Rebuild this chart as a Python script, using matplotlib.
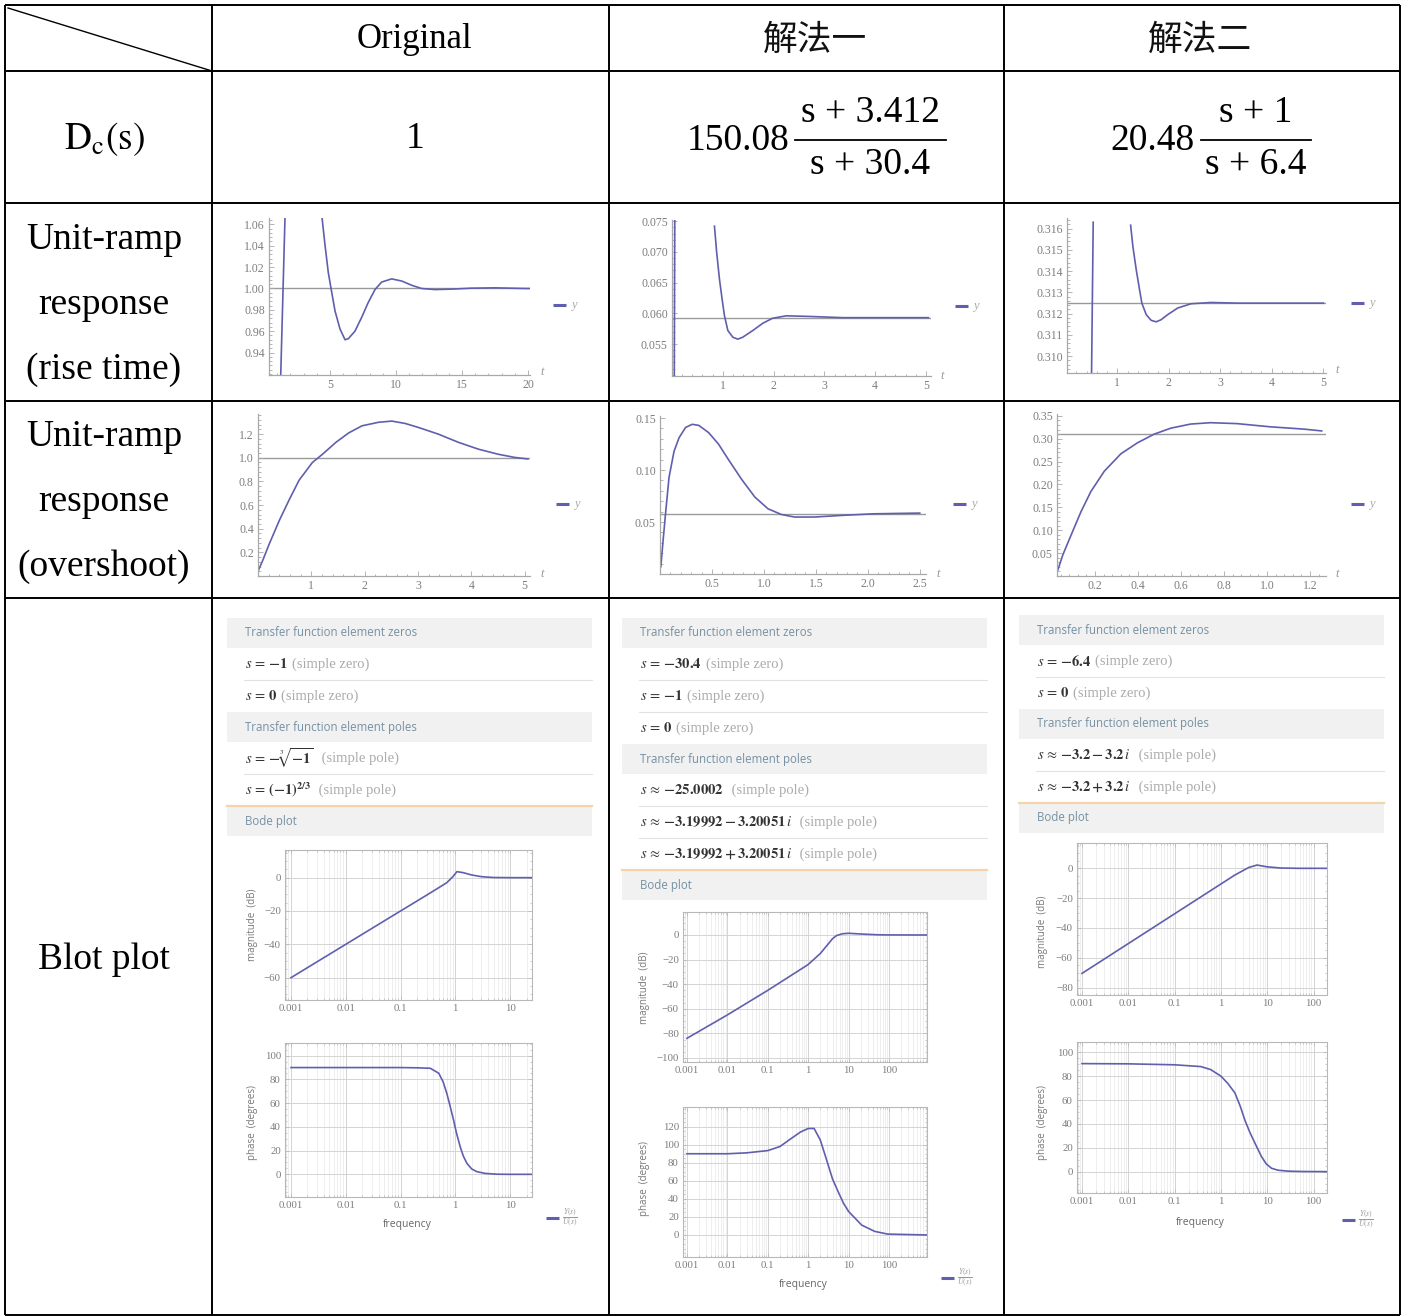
import numpy as np
import matplotlib
matplotlib.use('Agg')
import matplotlib.pyplot as plt
from matplotlib.patches import Rectangle
from matplotlib.ticker import AutoMinorLocator, LogLocator, NullFormatter

W, H = 1405, 1316
nan = np.nan

# ---------------- table text ----------------
COL_HEADERS = ['Original', '解法一', '解法二']
DC_LABEL = r'$\mathrm{D_c(s)}$'
DC_ORIG = '1'
DC_SOL1 = ('150.08', 's + 3.412', 's + 30.4')
DC_SOL2 = ('20.48', 's + 1', 's + 6.4')
ROW_RISE = ['Unit-ramp', 'response', '(rise time)']
ROW_OVER = ['Unit-ramp', 'response', '(overshoot)']
ROW_BODE = 'Blot plot'

# ---------------- unit-ramp response (rise time) ----------------
RISE_ORIG_T = [1.26, 1.59, nan, 4.40, 4.62, 4.87, 5.08, 5.38, 5.76, 6.14, 6.39, 6.89, 7.40,
               7.90, 8.41, 8.91, 9.67, 10.43, 11.19, 11.94, 12.95, 14.2, 15.7, 17.5, 19.8, 20.1]
RISE_ORIG_Y = [0.915, 1.066, nan, 1.066, 1.041, 1.015, 1.000, 0.979, 0.962, 0.952, 0.953, 0.960,
               0.973, 0.987, 0.999, 1.006, 1.009, 1.007, 1.003, 1.000, 0.999, 0.9994, 1.0003,
               1.0006, 1.0, 1.0]
RISE_SOL1_T = [0.045, 0.055, nan, 0.836, 0.88, 0.934, 0.987, 1.033, 1.10, 1.20, 1.295, 1.39,
               1.59, 1.79, 1.98, 2.25, 2.70, 3.36, 5.05]
RISE_SOL1_Y = [0.0495, 0.0755, nan, 0.0742, 0.0699, 0.0656, 0.0623, 0.0596, 0.0572, 0.0561,
               0.0558, 0.0561, 0.0572, 0.0584, 0.0592, 0.0596, 0.0595, 0.0593, 0.0593]
RISE_SOL2_T = [0.497, 0.53, nan, 1.258, 1.303, 1.368, 1.432, 1.477, 1.561, 1.658, 1.755, 1.852,
               1.98, 2.174, 2.432, 2.819, 3.335, 5.01]
RISE_SOL2_Y = [0.3090, 0.3163, nan, 0.31616, 0.31514, 0.31405, 0.31312, 0.31249, 0.31195,
               0.31168, 0.31161, 0.31171, 0.31195, 0.31226, 0.31246, 0.31252, 0.31249, 0.31249]
RISE_REF = [1.0, 0.0593, 0.3125]

# ---------------- unit-ramp response (overshoot) ----------------
OVER_ORIG_T = [0.0, 0.087, 0.21, 0.40, 0.58, 0.77, 1.02, 1.21, 1.46, 1.70, 1.95, 2.26, 2.51,
               2.76, 3.01, 3.38, 3.76, 4.13, 4.50, 4.81, 5.06]
OVER_ORIG_Y = [0.04, 0.13, 0.27, 0.47, 0.64, 0.81, 0.96, 1.03, 1.13, 1.21, 1.27, 1.30, 1.31,
               1.29, 1.256, 1.20, 1.13, 1.073, 1.03, 1.003, 0.99]
OVER_SOL1_T = [0.008, 0.03, 0.056, 0.087, 0.135, 0.183, 0.246, 0.31, 0.373, 0.468, 0.563, 0.659,
               0.786, 0.913, 1.04, 1.167, 1.294, 1.484, 1.738, 2.056, 2.5]
OVER_SOL1_Y = [0.007, 0.0325, 0.061, 0.093, 0.118, 0.131, 0.141, 0.144, 0.143, 0.136, 0.125,
               0.110, 0.091, 0.074, 0.0627, 0.0573, 0.0548, 0.0548, 0.0563, 0.0579, 0.0586]
OVER_SOL2_T = [0.027, 0.05, 0.089, 0.135, 0.181, 0.243, 0.32, 0.397, 0.475, 0.552, 0.644, 0.737,
               0.86, 1.015, 1.17, 1.254]
OVER_SOL2_Y = [0.0134, 0.046, 0.09, 0.141, 0.185, 0.229, 0.267, 0.291, 0.31, 0.323, 0.332,
               0.335, 0.333, 0.326, 0.321, 0.317]
OVER_REF = [1.0, 0.0573, 0.3097]

# ---------------- Bode data ----------------
BODE_ORIG_MF = [0.001, 0.01, 0.1, 0.3, 0.5, 0.7, 0.9, 1.07, 1.4, 2.0, 3.0, 5.0, 10, 25]
BODE_ORIG_MAG = [-60, -40, -20, -10.5, -6, -3, 0.5, 3.6, 3.0, 1.6, 0.6, 0.1, 0, 0]
BODE_ORIG_PF = [0.001, 0.01, 0.1, 0.2, 0.35, 0.5, 0.6, 0.7, 0.8, 0.93, 1.05, 1.23, 1.4, 1.63,
                2.0, 2.5, 3.5, 5.8, 10, 25]
BODE_ORIG_PH = [90, 90, 90, 89.8, 89.4, 85.2, 78, 68.3, 58, 45.8, 35, 23.3, 15.5, 9.3, 4.5, 2.2,
                0.8, 0.1, 0, 0]

BODE_SOL1_MF = [0.001, 0.01, 0.1, 0.3, 1.0, 2.0, 3.0, 4.0, 5.0, 7.0, 10, 20, 50, 100, 870]
BODE_SOL1_MAG = [-84, -65, -45, -35, -24, -15, -8, -3, -0.5, 1.0, 1.4, 0.8, 0.2, 0.05, 0]
BODE_SOL1_PF = [0.001, 0.01, 0.03, 0.1, 0.2, 0.33, 0.64, 1.0, 1.4, 2.0, 3.1, 4.0, 5.5, 7.5, 10,
                21, 44, 92, 870]
BODE_SOL1_PH = [90, 90, 91, 93.5, 98, 105, 114, 118, 118, 105, 78, 62, 48, 35, 26, 11, 4, 1, 0]

BODE_SOL2_MF = [0.001, 0.01, 0.1, 1.0, 2.0, 3.0, 4.0, 6.0, 10, 20, 50, 195]
BODE_SOL2_MAG = [-70.5, -50.5, -30.5, -10.5, -4.5, -1.5, 0.6, 2.2, 1.0, 0.2, 0, 0]
BODE_SOL2_PF = [0.001, 0.01, 0.1, 0.37, 0.6, 1.0, 1.4, 2.0, 2.6, 3.3, 4.2, 5.4, 7.5, 9.5, 12.4,
                17, 28.5, 60, 195]
BODE_SOL2_PH = [90.5, 90.3, 89.5, 88, 85.5, 80, 74, 66, 55, 43, 33, 24, 12.6, 6.5, 2.8, 1.2,
                0.4, 0.1, 0]

# ---------------- zeros / poles panels ----------------
INFO_ORIG = [
    ('head', 'Transfer function element zeros'),
    ('val', r'$s\,=\,\mathbf{-1}$', '(simple zero)'),
    ('val', r'$s\,=\,\mathbf{0}$', '(simple zero)'),
    ('head', 'Transfer function element poles'),
    ('val', r'$s\,=\,\mathbf{-}\sqrt[3]{\mathbf{-1}}$', ' (simple pole)'),
    ('val', r'$s\,=\,\mathbf{(-1)}^{\mathbf{2/3}}$', ' (simple pole)'),
    ('bode', 'Bode plot'),
]
INFO_SOL1 = [
    ('head', 'Transfer function element zeros'),
    ('val', r'$s\,=\,\mathbf{-30.4}$', '(simple zero)'),
    ('val', r'$s\,=\,\mathbf{-1}$', '(simple zero)'),
    ('val', r'$s\,=\,\mathbf{0}$', '(simple zero)'),
    ('head', 'Transfer function element poles'),
    ('val', r'$s\,\approx\,\mathbf{-25.0002}$', ' (simple pole)'),
    ('val', r'$s\,\approx\,\mathbf{-3.19992-3.20051}\,i$', ' (simple pole)'),
    ('val', r'$s\,\approx\,\mathbf{-3.19992+3.20051}\,i$', ' (simple pole)'),
    ('bode', 'Bode plot'),
]
INFO_SOL2 = [
    ('head', 'Transfer function element zeros'),
    ('val', r'$s\,=\,\mathbf{-6.4}$', '(simple zero)'),
    ('val', r'$s\,=\,\mathbf{0}$', '(simple zero)'),
    ('head', 'Transfer function element poles'),
    ('val', r'$s\,\approx\,\mathbf{-3.2-3.2}\,i$', ' (simple pole)'),
    ('val', r'$s\,\approx\,\mathbf{-3.2+3.2}\,i$', ' (simple pole)'),
    ('bode', 'Bode plot'),
]

CURVE = '#5f5fae'
REFC = '#9a9a9a'
AXC = '#a8a8a8'
TXTC = '#7d7d7d'

plt.rcParams['font.family'] = ['Liberation Serif', 'DejaVu Serif']
plt.rcParams['mathtext.fontset'] = 'stix'

fig = plt.figure(figsize=(W / 100, H / 100), dpi=100)
bg = fig.add_axes([0, 0, 1, 1])
bg.set_xlim(0, W)
bg.set_ylim(H, 0)
bg.axis('off')
renderer = fig.canvas.get_renderer()


def px_axes(l, t, r, b):
    return fig.add_axes([l / W, 1 - b / H, (r - l) / W, (b - t) / H])


def fmt(v, f):
    return f.format(v).replace('-', '\u2212')


# ---- table grid
xs = [5, 212, 609, 1004, 1400]
ys = [5, 71, 203, 401, 598, 1315]
for x in xs:
    bg.plot([x, x], [ys[0], ys[-1]], color='black', lw=1.4, solid_capstyle='butt')
for y in ys:
    bg.plot([xs[0], xs[-1]], [y, y], color='black', lw=1.4, solid_capstyle='butt')
bg.plot([8, 212], [8, 71], color='black', lw=1.0)

# ---- header texts
bg.text(415, 40, COL_HEADERS[0], fontsize=25, ha='center', va='center')
for cx, lab in zip([815, 1200], COL_HEADERS[1:]):
    bg.text(cx, 40, lab, fontsize=25, ha='center', va='center',
            family=['Noto Sans CJK SC', 'DejaVu Sans'], fontweight='light', color='#111111')

bg.text(104, 139, DC_LABEL, fontsize=27, ha='center', va='center')
bg.text(415, 139, DC_ORIG, fontsize=27, ha='center', va='center')


def frac_cell(gain_right, bar_l, bar_r, parts):
    gain, num, den = parts
    bg.text(gain_right, 141, gain, fontsize=27, ha='right', va='center')
    cx = (bar_l + bar_r) / 2
    bg.text(cx, 113, num, fontsize=27, ha='center', va='center')
    bg.text(cx, 165, den, fontsize=27, ha='center', va='center')
    bg.plot([bar_l, bar_r], [140, 140], color='black', lw=1.3)


frac_cell(789, 795, 946, DC_SOL1)
frac_cell(1195, 1201, 1311, DC_SOL2)

for lines, y0 in [(ROW_RISE, 240), (ROW_OVER, 437)]:
    for i, ln in enumerate(lines):
        bg.text(104, y0 + 65 * i, ln, fontsize=27, ha='center', va='center')
bg.text(104, 960, ROW_BODE, fontsize=27, ha='center', va='center')


def legend_y(x, y):
    bg.plot([x, x + 13], [y, y], color=CURVE, lw=2.2, solid_capstyle='butt')
    bg.text(x + 18, y, 'y', fontsize=9, style='italic', color='#aaaaaa', va='center')


def resp_plot(box, t, y, ref, xlim, ylim, xt, xf, yt, yf, leg, tlab):
    ax = px_axes(*box)
    ax.patch.set_alpha(0)
    ax.axhline(ref, color=REFC, lw=1.0, zorder=1)
    ax.plot(t, y, color=CURVE, lw=1.2, zorder=2)
    ax.set_xlim(*xlim)
    ax.set_ylim(*ylim)
    for s in ['top', 'right']:
        ax.spines[s].set_visible(False)
    for s in ['left', 'bottom']:
        ax.spines[s].set_color(AXC)
        ax.spines[s].set_linewidth(0.9)
    ax.set_xticks(xt, labels=[fmt(v, xf) for v in xt])
    ax.set_yticks(yt, labels=[fmt(v, yf) for v in yt])
    ax.xaxis.set_minor_locator(AutoMinorLocator(5))
    ax.yaxis.set_minor_locator(AutoMinorLocator(5))
    ax.tick_params(which='both', direction='in', colors=AXC, labelcolor=TXTC,
                   labelsize=8.5, pad=3, width=0.6)
    ax.tick_params(which='major', length=3.5)
    ax.tick_params(which='minor', length=1.8)
    legend_y(*leg)
    bg.text(tlab[0], tlab[1], 't', fontsize=9, style='italic', color='#999999',
            ha='center', va='center')
    return ax


# rise time row
resp_plot((269, 218, 530, 375), RISE_ORIG_T, RISE_ORIG_Y, RISE_REF[0],
          (0.38, 20.15), (0.919, 1.066), [5, 10, 15, 20], '{:g}',
          [0.94, 0.96, 0.98, 1.00, 1.02, 1.04, 1.06], '{:.2f}', (553, 305), (542, 372))
resp_plot((672, 220, 931, 376), RISE_SOL1_T, RISE_SOL1_Y, RISE_REF[1],
          (0, 5.1), (0.0498, 0.0752), [1, 2, 3, 4, 5], '{:g}',
          [0.055, 0.060, 0.065, 0.070, 0.075], '{:.3f}', (955, 306), (942, 376))
resp_plot((1067, 218, 1326, 373), RISE_SOL2_T, RISE_SOL2_Y, RISE_REF[2],
          (0.02, 5.06), (0.3092, 0.3165), [1, 2, 3, 4, 5], '{:g}',
          [0.310, 0.311, 0.312, 0.313, 0.314, 0.315, 0.316], '{:.3f}', (1351, 303), (1337, 370))

# overshoot row
resp_plot((258, 414, 530, 576), OVER_ORIG_T, OVER_ORIG_Y, OVER_REF[0],
          (0, 5.1), (0, 1.37), [1, 2, 3, 4, 5], '{:g}',
          [0.2, 0.4, 0.6, 0.8, 1.0, 1.2], '{:.1f}', (556, 504), (542, 574))
resp_plot((660, 416, 926, 574), OVER_SOL1_T, OVER_SOL1_Y, OVER_REF[1],
          (0, 2.56), (0, 0.152), [0.5, 1.0, 1.5, 2.0, 2.5], '{:.1f}',
          [0.05, 0.10, 0.15], '{:.2f}', (953, 504), (938, 574))
resp_plot((1057, 414, 1326, 576), OVER_SOL2_T, OVER_SOL2_Y, OVER_REF[2],
          (0.023, 1.274), (0, 0.354), [0.2, 0.4, 0.6, 0.8, 1.0, 1.2], '{:.1f}',
          [0.05, 0.10, 0.15, 0.20, 0.25, 0.30, 0.35], '{:.2f}', (1351, 504), (1337, 574))


# ---- zeros/poles panels
def draw_info(x0, x1, y0, rows):
    y = y0
    prev = None
    for row in rows:
        kind = row[0]
        if kind in ('head', 'bode'):
            h = 30
            bg.add_patch(Rectangle((x0, y), x1 - x0, h, fc='#f1f1f1', ec='none', zorder=0))
            if kind == 'bode':
                bg.plot([x0, x1], [y, y], color='#f6d3ad', lw=1.6)
            bg.text(x0 + 18, y + h / 2, row[1], fontsize=8.3, color='#7591a3',
                    va='center', family=['Open Sans', 'DejaVu Sans'])
        else:
            h = 32
            if prev == 'val':
                bg.plot([x0 + 17, x1], [y, y], color='#e2e2e2', lw=0.8)
            t1 = bg.text(x0 + 18, y + h / 2, row[1], fontsize=10.5, color='#333333',
                         va='center')
            bb = t1.get_window_extent(renderer)
            bg.text(bb.x1 + 4, y + h / 2, row[2], fontsize=10.5, color='#ababab', va='center')
        y += h
        prev = kind


draw_info(227, 592, 618, INFO_ORIG)
draw_info(622, 987, 618, INFO_SOL1)
draw_info(1019, 1384, 615, INFO_SOL2)


# ---- Bode plots
def bode_ax(box, f, v, xlim, ylim, yt, xt):
    ax = px_axes(*box)
    ax.set_xscale('log')
    ax.plot(f, v, color=CURVE, lw=1.2, zorder=3)
    ax.set_xlim(*xlim)
    ax.set_ylim(*ylim)
    ax.set_xticks(xt, labels=[fmt(x, '{:g}') for x in xt])
    ax.xaxis.set_minor_locator(LogLocator(base=10, subs=np.arange(2, 10)))
    ax.xaxis.set_minor_formatter(NullFormatter())
    ax.set_yticks(yt, labels=[fmt(x, '{:g}') for x in yt])
    ax.yaxis.set_minor_locator(AutoMinorLocator(4))
    ax.grid(which='major', color='#d4d4d4', lw=0.7)
    ax.grid(which='minor', axis='x', color='#e7e7e7', lw=0.5)
    for s in ax.spines.values():
        s.set_color('#b8b8b8')
        s.set_linewidth(0.8)
    ax.tick_params(which='both', direction='in', top=True, right=True, colors='#b8b8b8',
                   labelcolor=TXTC, labelsize=7.8, pad=3, width=0.5)
    ax.tick_params(which='major', length=3)
    ax.tick_params(which='minor', length=1.5)
    return ax


def bode_col(mbox, pbox, mf, mv, pf, pv, xlim, mylim, pylim, myt, pyt, xt,
             lab_x, mag_y, ph_y, freq_xy, leg_xy):
    bode_ax(mbox, mf, mv, xlim, mylim, myt, xt)
    bode_ax(pbox, pf, pv, xlim, pylim, pyt, xt)
    bg.text(lab_x, mag_y, 'magnitude  (dB)', rotation=90, fontsize=7, color='#777777',
            ha='center', va='center', family=['Open Sans', 'DejaVu Sans'])
    bg.text(lab_x, ph_y, 'phase  (degrees)', rotation=90, fontsize=7, color='#777777',
            ha='center', va='center', family=['Open Sans', 'DejaVu Sans'])
    bg.text(freq_xy[0], freq_xy[1], 'frequency', fontsize=7.5, color='#666666',
            ha='center', va='center', family=['Open Sans', 'DejaVu Sans'])
    lx, ly = leg_xy
    bg.plot([lx, lx + 13], [ly, ly], color=CURVE, lw=2.2, solid_capstyle='butt')
    bg.text(lx + 24, ly, r'$\frac{Y(s)}{U(s)}$', fontsize=8, color='#999999',
            ha='center', va='center')


bode_col((285, 850, 532, 1000), (285, 1043, 532, 1197),
         BODE_ORIG_MF, BODE_ORIG_MAG, BODE_ORIG_PF, BODE_ORIG_PH,
         (7.77e-4, 25.2), (-73.4, 16.6), (-19.1, 110.7),
         [-60, -40, -20, 0], [0, 20, 40, 60, 80, 100], [0.001, 0.01, 0.1, 1, 10],
         253, 925, 1123, (407, 1224), (546, 1218))
bode_col((683, 912, 927, 1062), (683, 1107, 927, 1257),
         BODE_SOL1_MF, BODE_SOL1_MAG, BODE_SOL1_PF, BODE_SOL1_PH,
         (7.96e-4, 871), (-103.3, 18.7), (-24.4, 141.8),
         [-100, -80, -60, -40, -20, 0], [0, 20, 40, 60, 80, 100, 120],
         [0.001, 0.01, 0.1, 1, 10, 100],
         645, 988, 1178, (803, 1285), (941, 1278))
bode_col((1077, 843, 1327, 995), (1077, 1042, 1327, 1193),
         BODE_SOL2_MF, BODE_SOL2_MAG, BODE_SOL2_PF, BODE_SOL2_PH,
         (7.8e-4, 195), (-85, 17), (-17.9, 108.6),
         [-80, -60, -40, -20, 0], [0, 20, 40, 60, 80, 100],
         [0.001, 0.01, 0.1, 1, 10, 100],
         1043, 932, 1123, (1200, 1222), (1342, 1220))

fig.savefig('out.png', dpi=100, facecolor='white')
